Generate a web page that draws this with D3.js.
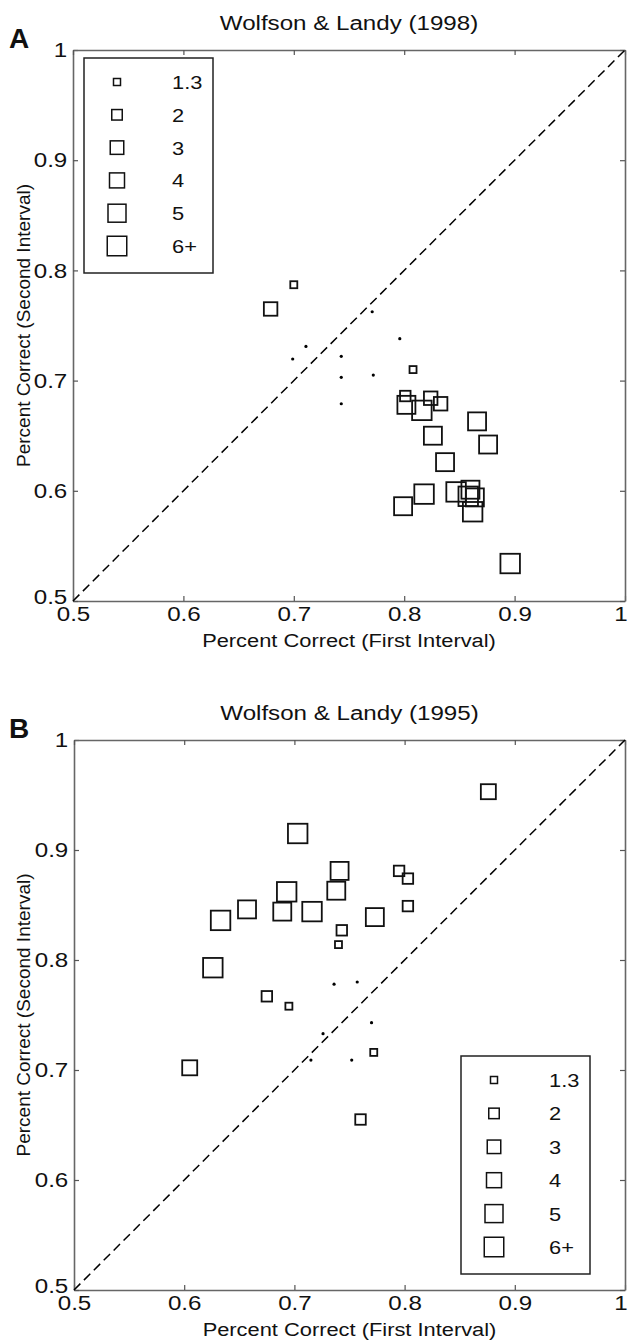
<!DOCTYPE html>
<html>
<head>
<meta charset="utf-8">
<script src="https://cdn.jsdelivr.net/npm/d3@7"></script>
<style>
  body { margin: 0; background: #fff; }
  text { font-family: Arial, "Liberation Sans", sans-serif; fill: #111; }
</style>
</head>
<body>
<div class="curr-graff"></div>
<script>
// size classes shown in legend ("1" = tiny dots, not in legend)
const sizeLabels = ["1.3", "2", "3", "4", "5", "6+"];
const tickValues = [0.5, 0.6, 0.7, 0.8, 0.9, 1];
const tickLabels = ["0.5", "0.6", "0.7", "0.8", "0.9", "1"];

// Panel A - Wolfson & Landy (1998)
const aFirst  = [0.771, 0.796, 0.711, 0.699, 0.743, 0.743, 0.772, 0.743,
                 0.700, 0.679, 0.808, 0.801, 0.802, 0.816, 0.824, 0.833, 0.866, 0.876,
                 0.826, 0.837, 0.818, 0.799, 0.847, 0.860, 0.858, 0.864, 0.862, 0.896];
const aSecond = [0.7625, 0.738, 0.731, 0.7196, 0.722, 0.703, 0.705, 0.679,
                 0.787, 0.765, 0.710, 0.686, 0.678, 0.673, 0.684, 0.679, 0.663, 0.642,
                 0.650, 0.626, 0.597, 0.586, 0.599, 0.601, 0.595, 0.594, 0.581, 0.534];
const aSize   = ["1", "1", "1", "1", "1", "1", "1", "1",
                 "1.3", "3", "1.3", "2", "5", "6+", "3", "3", "5", "5",
                 "5", "5", "6+", "5", "6+", "5", "6+", "5", "6+", "6+"];

// Panel B - Wolfson & Landy (1995)
const bFirst  = [0.736, 0.757, 0.726, 0.715, 0.752, 0.770,
                 0.876, 0.703, 0.741, 0.738, 0.693, 0.689, 0.716, 0.657, 0.633, 0.773,
                 0.795, 0.803, 0.803, 0.743, 0.740, 0.626, 0.675, 0.695, 0.605, 0.772, 0.760];
const bSecond = [0.778, 0.780, 0.733, 0.709, 0.709, 0.743,
                 0.953, 0.915, 0.881, 0.863, 0.862, 0.844, 0.844, 0.846, 0.836, 0.839,
                 0.881, 0.874, 0.849, 0.827, 0.814, 0.793, 0.767, 0.758, 0.702, 0.716, 0.655];
const bSize   = ["1", "1", "1", "1", "1", "1",
                 "4", "6+", "5", "5", "6+", "5", "6+", "5", "6+", "5",
                 "2", "2", "2", "2", "1.3", "6+", "2", "1.3", "4", "1.3", "2"];

const W = 628, H = 1343;
const SX = 1.15;   // the figure's lettering is a bit wider than plain Arial

var svg = d3.select(".curr-graff")
    .append("svg")
    .attr("width", W)
    .attr("height", H);

// marker side length per size class
var markerSize = d3.scaleOrdinal()
    .domain(sizeLabels)
    .range([7, 10.5, 13.5, 15, 18, 19.5]);

function wideText(parent, x, y, str, size, anchor) {
    return parent.append("text")
        .attr("transform", "translate(" + x + "," + y + ") scale(" + SX + ",1)")
        .attr("text-anchor", anchor || "start")
        .style("font-size", size + "px")
        .text(str);
}

function drawPanel(opt) {
    var xScale = d3.scaleLinear().domain([0.5, 1]).range([opt.left, opt.right]);
    var yScale = d3.scaleLinear().domain([0.5, 1]).range([opt.bottom, opt.top]);

    var g = svg.append("g");

    // panel letter + title
    g.append("text")
        .attr("x", 9).attr("y", opt.top - 2)
        .style("font-size", "28px").style("font-weight", "bold")
        .text(opt.letter);
    wideText(g, (opt.left + opt.right) / 2, opt.top - 20, opt.title, 21, "middle");

    // frame with inward ticks on all sides
    var tickLen = 5;
    var fmt = (d, i) => tickLabels[i];
    var bottomAxis = d3.axisBottom(xScale).tickValues(tickValues).tickSize(-tickLen).tickSizeOuter(0).tickFormat(fmt).tickPadding(5);
    var leftAxis = d3.axisLeft(yScale).tickValues(tickValues).tickSize(-tickLen).tickSizeOuter(0).tickFormat(fmt).tickPadding(5);
    var topAxis = d3.axisTop(xScale).tickValues(tickValues).tickSize(-tickLen).tickSizeOuter(0).tickFormat("");
    var rightAxis = d3.axisRight(yScale).tickValues(tickValues).tickSize(-tickLen).tickSizeOuter(0).tickFormat("");

    [[bottomAxis, "translate(0," + opt.bottom + ")"],
     [leftAxis, "translate(" + opt.left + ",0)"],
     [topAxis, "translate(0," + opt.top + ")"],
     [rightAxis, "translate(" + opt.right + ",0)"]].forEach(function (a) {
        var ax = g.append("g").attr("transform", a[1]).call(a[0]);
        ax.select(".domain").attr("stroke", "#666").attr("stroke-width", 1.6);
        ax.selectAll(".tick line").attr("stroke", "#555").attr("stroke-width", 1.2);
        ax.selectAll(".tick text").style("font-size", "21px").attr("fill", "#111")
            .style("font-family", "Arial, 'Liberation Sans', sans-serif")
            .attr("transform", "scale(" + SX + ",1)");
        if (a[0] === bottomAxis) {
            // last label sits at the page edge
            ax.selectAll(".tick text").filter(d => d === 1).attr("x", -4);
        }
        if (a[0] === leftAxis) {
            // lift the corner label clear of the x label below it
            ax.selectAll(".tick text").filter(d => d === 0.5).attr("y", -4);
        }
    });

    // axis labels
    wideText(g, (opt.left + opt.right) / 2, opt.bottom + 46, "Percent Correct (First Interval)", 19, "middle");
    g.append("text")
        .attr("transform", "translate(30," + (opt.top + opt.bottom) / 2 + ") rotate(-90)")
        .attr("text-anchor", "middle")
        .style("font-size", "19px")
        .text("Percent Correct (Second Interval)");

    // diagonal
    g.append("line")
        .attr("x1", xScale(0.5)).attr("y1", yScale(0.5))
        .attr("x2", xScale(1)).attr("y2", yScale(1))
        .attr("stroke", "#000").attr("stroke-width", 1.5)
        .attr("stroke-dasharray", "9,5");

    // points
    var pts = opt.xs.map((d, i) => ({ x: d, y: opt.ys[i], s: opt.sizes[i] }));
    g.selectAll("circle.dot")
        .data(pts.filter(d => d.s === "1"))
        .enter().append("circle")
        .attr("class", "dot")
        .attr("cx", d => xScale(d.x))
        .attr("cy", d => yScale(d.y))
        .attr("r", 1.6)
        .attr("fill", "#000");
    g.selectAll("rect.mark")
        .data(pts.filter(d => d.s !== "1"))
        .enter().append("rect")
        .attr("class", "mark")
        .attr("x", d => xScale(d.x) - markerSize(d.s) / 2)
        .attr("y", d => yScale(d.y) - markerSize(d.s) / 2)
        .attr("width", d => markerSize(d.s))
        .attr("height", d => markerSize(d.s))
        .attr("fill", "none")
        .attr("stroke", "#111")
        .attr("stroke-width", 1.8);

    // legend
    var lg = g.append("g");
    lg.append("rect")
        .attr("x", opt.legend.x).attr("y", opt.legend.y)
        .attr("width", opt.legend.w).attr("height", opt.legend.h)
        .attr("fill", "#fff").attr("stroke", "#222").attr("stroke-width", 1.5);
    var rowY = d3.scalePoint().domain(sizeLabels)
        .range([opt.legend.y + 24, opt.legend.y + opt.legend.h - 27]);
    lg.selectAll("rect.key")
        .data(sizeLabels)
        .enter().append("rect")
        .attr("class", "key")
        .attr("x", d => opt.legend.x + 33 - markerSize(d) / 2)
        .attr("y", d => rowY(d) - markerSize(d) / 2)
        .attr("width", d => markerSize(d))
        .attr("height", d => markerSize(d))
        .attr("fill", "none").attr("stroke", "#111").attr("stroke-width", 1.5);
    sizeLabels.forEach(function (d) {
        wideText(lg, opt.legend.x + 88, rowY(d) + 7, d, 19, "start");
    });
}

drawPanel({
    letter: "A", title: "Wolfson & Landy (1998)",
    left: 73, right: 625, top: 50, bottom: 601,
    xs: aFirst, ys: aSecond, sizes: aSize,
    legend: { x: 84, y: 58, w: 129, h: 215 }
});

drawPanel({
    letter: "B", title: "Wolfson & Landy (1995)",
    left: 74, right: 625, top: 740, bottom: 1290,
    xs: bFirst, ys: bSecond, sizes: bSize,
    legend: { x: 461, y: 1056, w: 129, h: 218 }
});
</script>
</body>
</html>
